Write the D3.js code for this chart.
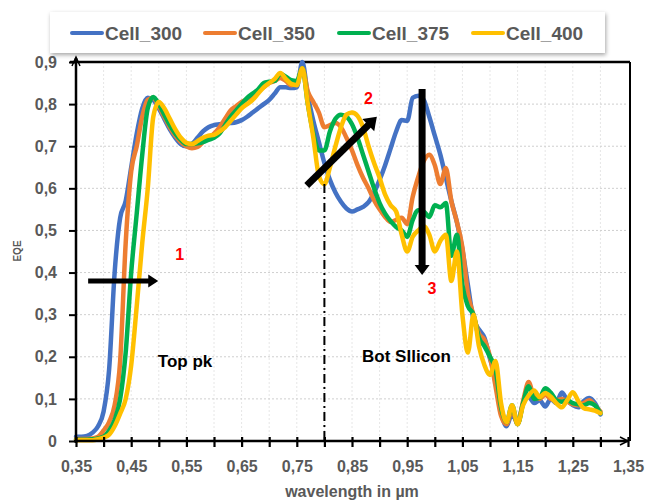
<!DOCTYPE html>
<html>
<head>
<meta charset="utf-8">
<script src="https://cdn.jsdelivr.net/npm/d3@7"></script>
<style>
  body { margin: 0; background: #fff; }
  svg { display: block; }
  text { font-family: "Liberation Sans", Arial, sans-serif; }
</style>
</head>
<body>
<script>
// wavelength grid (µm) shared by all series
var wavelength = d3.range(96).map(function(i) { return +(0.35 + i * 0.01).toFixed(2); });

var cell300 = [0.01,0.01,0.012,0.02,0.035,0.07,0.17,0.40,0.53,0.57,
  0.65,0.73,0.79,0.815,0.81,0.79,0.765,0.74,0.72,0.705,
  0.70,0.705,0.72,0.735,0.745,0.75,0.752,0.754,0.755,0.757,
  0.762,0.77,0.78,0.79,0.80,0.81,0.825,0.84,0.84,0.838,
  0.84,0.90,0.82,0.76,0.71,0.66,0.62,0.59,0.568,0.552,
  0.545,0.55,0.556,0.567,0.59,0.62,0.655,0.695,0.735,0.762,
  0.76,0.815,0.82,0.81,0.77,0.725,0.68,0.625,0.57,0.52,
  0.455,0.37,0.29,0.265,0.245,0.195,0.15,0.07,0.035,0.065,
  0.042,0.09,0.105,0.09,0.097,0.082,0.10,0.09,0.115,0.097,
  0.085,0.08,0.095,0.102,0.09,0.063];

var cell350 = [0.005,0.005,0.005,0.006,0.01,0.025,0.045,0.085,0.19,0.47,
  0.64,0.70,0.77,0.81,0.815,0.795,0.77,0.745,0.725,0.71,
  0.70,0.695,0.698,0.71,0.72,0.73,0.745,0.765,0.785,0.795,
  0.805,0.812,0.82,0.83,0.84,0.85,0.855,0.862,0.855,0.845,
  0.85,0.885,0.83,0.805,0.78,0.745,0.75,0.755,0.745,0.72,
  0.69,0.655,0.625,0.60,0.572,0.55,0.532,0.52,0.525,0.53,
  0.515,0.58,0.627,0.665,0.68,0.655,0.61,0.648,0.57,0.52,
  0.46,0.35,0.30,0.255,0.24,0.20,0.13,0.06,0.04,0.075,
  0.04,0.095,0.14,0.105,0.10,0.11,0.10,0.097,0.10,0.094,
  0.087,0.085,0.09,0.097,0.085,0.07];

var cell375 = [0.003,0.003,0.003,0.004,0.006,0.01,0.025,0.05,0.10,0.21,
  0.40,0.54,0.68,0.79,0.817,0.80,0.775,0.75,0.73,0.715,
  0.705,0.705,0.707,0.71,0.715,0.72,0.73,0.75,0.77,0.785,
  0.80,0.815,0.825,0.835,0.85,0.853,0.855,0.872,0.865,0.857,
  0.855,0.885,0.80,0.73,0.69,0.69,0.735,0.765,0.775,0.77,
  0.752,0.72,0.68,0.64,0.60,0.565,0.54,0.522,0.508,0.50,
  0.485,0.525,0.548,0.545,0.532,0.56,0.555,0.565,0.44,0.49,
  0.37,0.32,0.30,0.245,0.225,0.20,0.17,0.08,0.045,0.085,
  0.04,0.09,0.13,0.10,0.103,0.125,0.115,0.097,0.093,0.097,
  0.09,0.087,0.085,0.09,0.085,0.066];

var cell400 = [0.002,0.002,0.002,0.002,0.004,0.008,0.015,0.035,0.065,0.10,
  0.18,0.32,0.47,0.60,0.77,0.805,0.79,0.765,0.74,0.72,
  0.708,0.705,0.712,0.72,0.725,0.727,0.735,0.745,0.76,0.775,
  0.79,0.80,0.81,0.825,0.84,0.85,0.86,0.874,0.86,0.848,
  0.845,0.885,0.80,0.72,0.63,0.61,0.65,0.70,0.745,0.775,
  0.78,0.772,0.745,0.70,0.66,0.625,0.585,0.56,0.545,0.49,
  0.45,0.485,0.50,0.51,0.49,0.45,0.475,0.49,0.38,0.45,
  0.30,0.21,0.30,0.225,0.18,0.157,0.19,0.09,0.045,0.085,
  0.04,0.085,0.108,0.12,0.104,0.114,0.105,0.09,0.08,0.097,
  0.116,0.095,0.078,0.075,0.072,0.066];

var seriesNames = ["Cell_300", "Cell_350", "Cell_375", "Cell_400"];
var seriesValues = [cell300, cell350, cell375, cell400];
var seriesColors = ["#4472C4", "#ED7D31", "#00B050", "#FFC000"];

var xMajorTicks = [0.35,0.45,0.55,0.65,0.75,0.85,0.95,1.05,1.15,1.25,1.35];
var xTickLabels = ["0,35","0,45","0,55","0,65","0,75","0,85","0,95","1,05","1,15","1,25","1,35"];
var xMinorTicks = [0.40,0.50,0.60,0.70,0.80,0.90,1.00,1.10,1.20,1.30];
var yTicks = [0,0.1,0.2,0.3,0.4,0.5,0.6,0.7,0.8,0.9];
var yTickLabels = ["0","0,1","0,2","0,3","0,4","0,5","0,6","0,7","0,8","0,9"];

var W = 653, H = 500;
var x = d3.scaleLinear().domain([0.35, 1.35]).range([76, 628]);
var y = d3.scaleLinear().domain([0, 0.9]).range([441, 62]);

var svg = d3.select("body").append("svg").attr("width", W).attr("height", H);
svg.append("rect").attr("width", W).attr("height", H).attr("fill", "#fff");

var defs = svg.append("defs");
var f = defs.append("filter").attr("id", "shadow").attr("x", "-5%").attr("y", "-20%").attr("width", "115%").attr("height", "160%");
f.append("feDropShadow").attr("dx", 1).attr("dy", 2).attr("stdDeviation", 2).attr("flood-color", "#000").attr("flood-opacity", 0.35);

// grid
var grid = svg.append("g");
grid.selectAll("line.v").data(xMajorTicks.concat(xMinorTicks).filter(function(d) { return d > 0.35 && d < 1.35; }))
  .enter().append("line")
  .attr("x1", function(d) { return x(d); }).attr("x2", function(d) { return x(d); })
  .attr("y1", y(0.9)).attr("y2", y(0))
  .attr("stroke", "#e6e6e6").attr("stroke-width", 1).attr("stroke-dasharray", "2,2");
grid.selectAll("line.h").data(yTicks.filter(function(d) { return d > 0 && d < 0.9; }))
  .enter().append("line")
  .attr("x1", x(0.35)).attr("x2", x(1.35))
  .attr("y1", function(d) { return y(d); }).attr("y2", function(d) { return y(d); })
  .attr("stroke", "#cfcfcf").attr("stroke-width", 1).attr("stroke-dasharray", "2,2");

// frame top + right
svg.append("line").attr("x1", x(0.35) - 6).attr("x2", x(1.35) + 2).attr("y1", y(0.9)).attr("y2", y(0.9))
  .attr("stroke", "#000").attr("stroke-width", 2.5);
svg.append("line").attr("x1", x(1.35) + 2).attr("x2", x(1.35) + 2).attr("y1", y(0.9)).attr("y2", y(0))
  .attr("stroke", "#000").attr("stroke-width", 2);

// series
var line = d3.line()
  .x(function(d, i) { return x(wavelength[i]); })
  .y(function(d) { return y(d); })
  .curve(d3.curveMonotoneX);

svg.append("g").selectAll("path").data(seriesValues).enter().append("path")
  .attr("d", line)
  .attr("fill", "none")
  .attr("stroke", function(d, i) { return seriesColors[i]; })
  .attr("stroke-width", 4.5)
  .attr("stroke-linejoin", "round")
  .attr("stroke-linecap", "round");

// axes
var xAxis = svg.append("g").attr("transform", "translate(0," + y(0) + ")")
  .call(d3.axisBottom(x).tickValues(xMajorTicks).tickSize(6).tickPadding(14)
    .tickFormat(function(d, i) { return xTickLabels[i]; }));
var xAxisMinor = svg.append("g").attr("transform", "translate(0," + y(0) + ")")
  .call(d3.axisBottom(x).tickValues(xMinorTicks).tickSize(6).tickFormat(""));
[xAxis, xAxisMinor].forEach(function(g) {
  g.select(".domain").remove();
  g.selectAll(".tick line").attr("y1", -4).attr("y2", 6).attr("stroke", "#000").attr("stroke-width", 2.2);
});
xAxis.selectAll(".tick text").attr("font-size", 16).attr("font-weight", "bold").attr("fill", "#595959")
  .attr("font-family", "Liberation Sans, Arial, sans-serif");

var yAxis = svg.append("g").attr("transform", "translate(" + x(0.35) + ",0)")
  .call(d3.axisLeft(y).tickValues(yTicks).tickSize(7).tickPadding(12)
    .tickFormat(function(d, i) { return yTickLabels[i]; }));
yAxis.select(".domain").remove();
yAxis.selectAll(".tick line").attr("stroke", "#000").attr("stroke-width", 2);
yAxis.selectAll(".tick text").attr("font-size", 16).attr("font-weight", "bold").attr("fill", "#595959")
  .attr("font-family", "Liberation Sans, Arial, sans-serif");

// axis lines with arrows
svg.append("line").attr("x1", x(0.35)).attr("x2", x(0.35)).attr("y1", y(0) + 2).attr("y2", y(0.9) - 4)
  .attr("stroke", "#000").attr("stroke-width", 2.5);
svg.append("path").attr("d", d3.line()([[x(0.35) - 4, y(0.9) + 4], [x(0.35), y(0.9) - 5], [x(0.35) + 4, y(0.9) + 4]]))
  .attr("fill", "none").attr("stroke", "#000").attr("stroke-width", 1.5);
svg.append("line").attr("x1", x(0.35) - 2).attr("x2", x(1.35)).attr("y1", y(0)).attr("y2", y(0))
  .attr("stroke", "#000").attr("stroke-width", 2.5);
svg.append("path").attr("d", d3.line()([[x(1.35) - 8, y(0) - 4], [x(1.35), y(0)], [x(1.35) - 8, y(0) + 4]]))
  .attr("fill", "none").attr("stroke", "#000").attr("stroke-width", 1.5);

// axis titles
svg.append("text").attr("x", 352).attr("y", 497).attr("text-anchor", "middle")
  .attr("font-size", 16).attr("font-weight", "bold").attr("fill", "#595959").text("wavelength in µm");
svg.append("text").attr("transform", "translate(21,251) rotate(-90)").attr("text-anchor", "middle")
  .attr("font-size", 10).attr("font-weight", "bold").attr("fill", "#595959").text("EQE");

// annotations
svg.append("line").attr("x1", x(0.80)).attr("x2", x(0.80)).attr("y1", y(0.61)).attr("y2", y(0))
  .attr("stroke", "#000").attr("stroke-width", 2).attr("stroke-dasharray", "9,4,2,4");

var arrows = [
  { from: [0.372, 0.38], to: [0.499, 0.38], w: 5, hl: 10, hw: 13 },
  { from: [0.768, 0.607], to: [0.895, 0.77], w: 7, hl: 12, hw: 17 },
  { from: [0.977, 0.836], to: [0.977, 0.394], w: 7, hl: 10, hw: 15 }
];
arrows.forEach(function(a) {
  var x1 = x(a.from[0]), y1 = y(a.from[1]), x2 = x(a.to[0]), y2 = y(a.to[1]);
  var dx = x2 - x1, dy = y2 - y1, len = Math.sqrt(dx * dx + dy * dy);
  var ux = dx / len, uy = dy / len, nx = -uy, ny = ux;
  var bx = x2 - ux * a.hl, by = y2 - uy * a.hl;
  svg.append("line").attr("x1", x1).attr("y1", y1).attr("x2", bx + ux).attr("y2", by + uy)
    .attr("stroke", "#000").attr("stroke-width", a.w);
  svg.append("path").attr("d", d3.line()([[x2, y2], [bx + nx * a.hw / 2, by + ny * a.hw / 2], [bx - nx * a.hw / 2, by - ny * a.hw / 2]]) + "Z")
    .attr("fill", "#000");
});

var labels = [
  { t: "1", p: [0.538, 0.43], c: "#FF0000", s: 16 },
  { t: "2", p: [0.880, 0.80], c: "#FF0000", s: 16 },
  { t: "3", p: [0.995, 0.35], c: "#FF0000", s: 16 },
  { t: "Top pk", p: [0.5475, 0.176], c: "#000", s: 17 },
  { t: "Bot SIlicon", p: [0.9487, 0.188], c: "#000", s: 17 }
];
svg.append("g").selectAll("text").data(labels).enter().append("text")
  .attr("x", function(d) { return x(d.p[0]); })
  .attr("y", function(d) { return y(d.p[1]); })
  .attr("text-anchor", "middle")
  .attr("font-size", function(d) { return d.s; })
  .attr("font-weight", "bold")
  .attr("fill", function(d) { return d.c; })
  .text(function(d) { return d.t; });

// legend
var legend = svg.append("g");
legend.append("rect").attr("x", 50).attr("y", 12).attr("width", 555).attr("height", 41)
  .attr("fill", "#fff").attr("filter", "url(#shadow)");
var legendX = [72, 205, 339, 473];
var item = legend.selectAll("g.item").data(seriesNames).enter().append("g")
  .attr("transform", function(d, i) { return "translate(" + legendX[i] + ",33)"; });
item.append("line").attr("x1", 0).attr("x2", 30).attr("y1", 0).attr("y2", 0)
  .attr("stroke", function(d, i) { return seriesColors[i]; }).attr("stroke-width", 4).attr("stroke-linecap", "round");
item.append("text").attr("x", 33).attr("y", 7).attr("font-size", 19).attr("font-weight", "bold")
  .attr("fill", "#595959").text(function(d) { return d; });
</script>
</body>
</html>
